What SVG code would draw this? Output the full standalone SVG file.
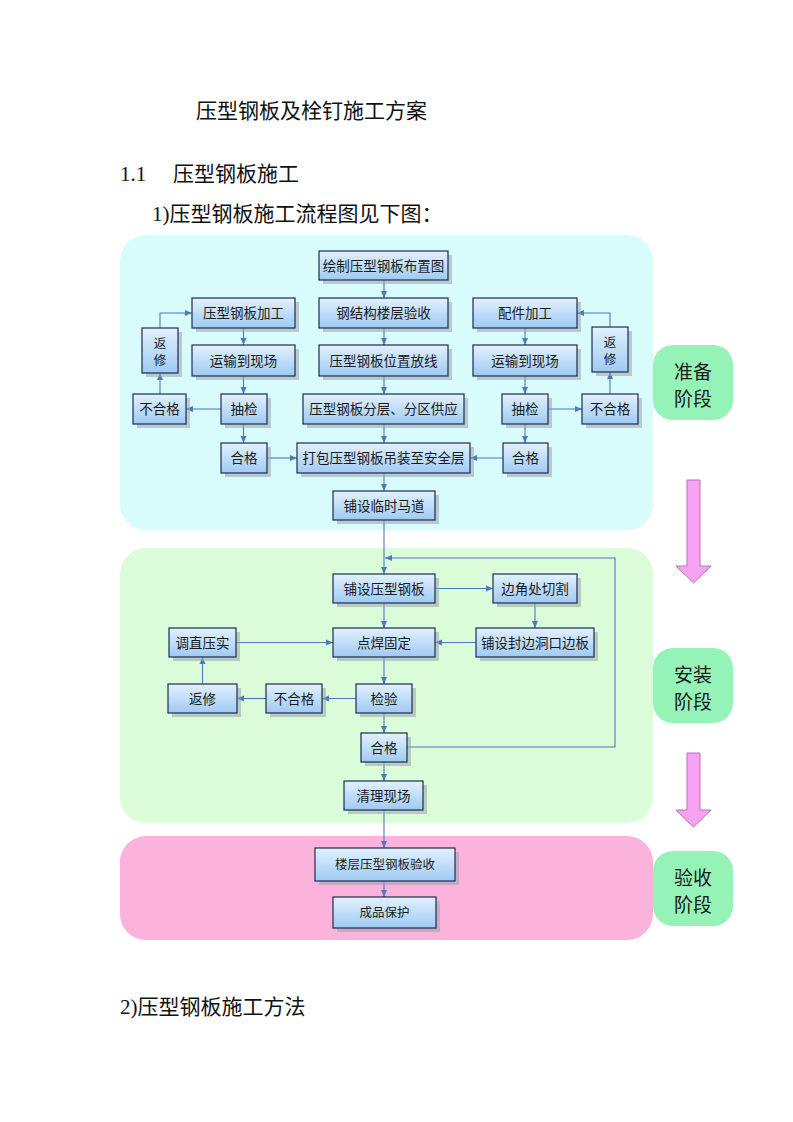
<svg xmlns="http://www.w3.org/2000/svg" width="793" height="1122" viewBox="0 0 793 1122">
<style>
.h{font-family:"Liberation Serif","Noto Sans CJK SC",serif;font-size:21px;fill:#111}
.t{font-family:"Noto Sans CJK SC",sans-serif;font-size:13.5px;fill:#1a1a1a;text-anchor:middle}
.tv{font-family:"Noto Sans CJK SC",sans-serif;font-size:12.5px;fill:#1a1a1a;text-anchor:middle}
.t2{font-family:"Noto Sans CJK SC",sans-serif;font-size:12.5px;fill:#1a1a1a;text-anchor:middle}
.s{font-family:"Noto Sans CJK SC",sans-serif;font-size:19px;fill:#1a1a1a;text-anchor:middle}
.b{fill:url(#g);stroke:#1d2b4f;stroke-width:1.2}
.sh{fill:#9aa3ad;opacity:0.55}
.c{fill:none;stroke:#4d79bd;stroke-width:1.1}
.lab{fill:#95f3b8}
.pa{fill:#f7a2f2;stroke:#b870b8;stroke-width:1}
</style>
<defs>
<linearGradient id="g" x1="0" y1="0" x2="0" y2="1">
<stop offset="0" stop-color="#e2f1ff"/>
<stop offset="1" stop-color="#9fcaf3"/>
</linearGradient>
<marker id="a" markerUnits="userSpaceOnUse" markerWidth="8" markerHeight="8" refX="7" refY="4" orient="auto">
<path d="M0,1 L7,4 L0,7 Z" fill="#4d79bd"/>
</marker>
</defs>

<text class="h" x="196" y="118">压型钢板及栓钉施工方案</text>
<text class="h" x="120" y="181">1.1</text>
<text class="h" x="173" y="181">压型钢板施工</text>
<text class="h" x="152" y="221">1)压型钢板施工流程图见下图：</text>
<text class="h" x="120" y="1014">2)压型钢板施工方法</text>

<g id="panels">
<rect x="120" y="235" width="533" height="295" rx="26" fill="#d8fbfb"/>
<rect x="120" y="548" width="533" height="275" rx="26" fill="#dbfcd8"/>
<rect x="120" y="836" width="533" height="104" rx="26" fill="#fbb3db"/>
</g>

<g id="stages">
<g id="stage1"><rect class="lab" x="653" y="345" width="80" height="75" rx="20"/><text class="s" x="693" y="379">准备</text><text class="s" x="693" y="406">阶段</text></g>
<g id="stage2"><rect class="lab" x="653" y="648" width="80" height="75" rx="20"/><text class="s" x="693" y="682">安装</text><text class="s" x="693" y="709">阶段</text></g>
<g id="stage3"><rect class="lab" x="653" y="851" width="80" height="75" rx="20"/><text class="s" x="693" y="885">验收</text><text class="s" x="693" y="912">阶段</text></g>
<path class="pa" d="M687,480 H700 V566 H711 L693.5,583 L676,566 H687 Z"/>
<path class="pa" d="M687,753 H700 V810 H711 L693.5,827 L676,810 H687 Z"/>
</g>

<g id="connectors">
<path class="c" d="M384,280 V298" marker-end="url(#a)"/>
<path class="c" d="M384,328 V345" marker-end="url(#a)"/>
<path class="c" d="M384,376 V394" marker-end="url(#a)"/>
<path class="c" d="M384,424 V443" marker-end="url(#a)"/>
<path class="c" d="M384,473 V491" marker-end="url(#a)"/>
<path class="c" d="M384,520 V574" marker-end="url(#a)"/>
<path class="c" d="M243.5,328 V345" marker-end="url(#a)"/>
<path class="c" d="M243.5,376 V394" marker-end="url(#a)"/>
<path class="c" d="M243.5,424 V443" marker-end="url(#a)"/>
<path class="c" d="M221,409 H186" marker-end="url(#a)"/>
<path class="c" d="M160,394 V373" marker-end="url(#a)"/>
<path class="c" d="M160,328 V313 H192" marker-end="url(#a)"/>
<path class="c" d="M267,458 H297" marker-end="url(#a)"/>
<path class="c" d="M525,328 V345" marker-end="url(#a)"/>
<path class="c" d="M525,376 V394" marker-end="url(#a)"/>
<path class="c" d="M525,424 V443" marker-end="url(#a)"/>
<path class="c" d="M548,409 H582" marker-end="url(#a)"/>
<path class="c" d="M610,394 V372" marker-end="url(#a)"/>
<path class="c" d="M610,327 V313 H577" marker-end="url(#a)"/>
<path class="c" d="M503,458 H470" marker-end="url(#a)"/>
<path class="c" d="M407,747 H615 V558 H385" marker-end="url(#a)"/>
<path class="c" d="M435,588.5 H493" marker-end="url(#a)"/>
<path class="c" d="M535,603 V628" marker-end="url(#a)"/>
<path class="c" d="M476,642.5 H435" marker-end="url(#a)"/>
<path class="c" d="M236,642.5 H333" marker-end="url(#a)"/>
<path class="c" d="M384,603 V628" marker-end="url(#a)"/>
<path class="c" d="M384,657 V684" marker-end="url(#a)"/>
<path class="c" d="M356,698.5 H322" marker-end="url(#a)"/>
<path class="c" d="M266,698.5 H237" marker-end="url(#a)"/>
<path class="c" d="M202.5,684 V657" marker-end="url(#a)"/>
<path class="c" d="M384,713 V733" marker-end="url(#a)"/>
<path class="c" d="M384,762 V781" marker-end="url(#a)"/>
<path class="c" d="M384,810 V848" marker-end="url(#a)"/>
<path class="c" d="M384,881 V897" marker-end="url(#a)"/>
</g>

<g id="n1"><rect class="sh" x="323" y="255" width="129" height="29"/><rect class="b" x="319" y="251" width="129" height="29"/><text class="t" x="383.5" y="270.5">绘制压型钢板布置图</text></g>
<g id="n2"><rect class="sh" x="323" y="302" width="129" height="30"/><rect class="b" x="319" y="298" width="129" height="30"/><text class="t" x="383.5" y="318">钢结构楼层验收</text></g>
<g id="n3"><rect class="sh" x="323" y="349" width="129" height="31"/><rect class="b" x="319" y="345" width="129" height="31"/><text class="t" x="383.5" y="365.5">压型钢板位置放线</text></g>
<g id="n4"><rect class="sh" x="307" y="398" width="161" height="30"/><rect class="b" x="303" y="394" width="161" height="30"/><text class="t" x="383.5" y="414">压型钢板分层、分区供应</text></g>
<g id="n5"><rect class="sh" x="301" y="447" width="173" height="30"/><rect class="b" x="297" y="443" width="173" height="30"/><text class="t" x="383.5" y="463">打包压型钢板吊装至安全层</text></g>
<g id="n6"><rect class="sh" x="337" y="495" width="102" height="29"/><rect class="b" x="333" y="491" width="102" height="29"/><text class="t" x="384" y="510.5">铺设临时马道</text></g>

<g id="l1"><rect class="sh" x="196" y="302" width="103" height="30"/><rect class="b" x="192" y="298" width="103" height="30"/><text class="t" x="243.5" y="318">压型钢板加工</text></g>
<g id="l2"><rect class="sh" x="196" y="349" width="103" height="31"/><rect class="b" x="192" y="345" width="103" height="31"/><text class="t" x="243.5" y="365.5">运输到现场</text></g>
<g id="l3"><rect class="sh" x="146" y="332" width="36" height="45"/><rect class="b" x="142" y="328" width="36" height="45"/><text class="tv" x="160" y="348">返</text><text class="tv" x="160" y="365">修</text></g>
<g id="l4"><rect class="sh" x="137" y="398" width="53" height="30"/><rect class="b" x="133" y="394" width="53" height="30"/><text class="t" x="159.5" y="414">不合格</text></g>
<g id="l5"><rect class="sh" x="225" y="398" width="46" height="30"/><rect class="b" x="221" y="394" width="46" height="30"/><text class="t" x="244" y="414">抽检</text></g>
<g id="l6"><rect class="sh" x="225" y="447" width="46" height="30"/><rect class="b" x="221" y="443" width="46" height="30"/><text class="t" x="244" y="463">合格</text></g>

<g id="r1"><rect class="sh" x="477" y="302" width="104" height="30"/><rect class="b" x="473" y="298" width="104" height="30"/><text class="t" x="525" y="318">配件加工</text></g>
<g id="r2"><rect class="sh" x="477" y="349" width="104" height="31"/><rect class="b" x="473" y="345" width="104" height="31"/><text class="t" x="525" y="365.5">运输到现场</text></g>
<g id="r3"><rect class="sh" x="596" y="331" width="36" height="45"/><rect class="b" x="592" y="327" width="36" height="45"/><text class="tv" x="610" y="347">返</text><text class="tv" x="610" y="364">修</text></g>
<g id="r4"><rect class="sh" x="586" y="398" width="56" height="30"/><rect class="b" x="582" y="394" width="56" height="30"/><text class="t" x="610" y="414">不合格</text></g>
<g id="r5"><rect class="sh" x="506" y="398" width="46" height="30"/><rect class="b" x="502" y="394" width="46" height="30"/><text class="t" x="525" y="414">抽检</text></g>
<g id="r6"><rect class="sh" x="507" y="447" width="45" height="30"/><rect class="b" x="503" y="443" width="45" height="30"/><text class="t" x="525.5" y="463">合格</text></g>

<g id="m1"><rect class="sh" x="337" y="578" width="102" height="29"/><rect class="b" x="333" y="574" width="102" height="29"/><text class="t" x="384" y="593.5">铺设压型钢板</text></g>
<g id="m2"><rect class="sh" x="497" y="578" width="84" height="29"/><rect class="b" x="493" y="574" width="84" height="29"/><text class="t" x="535" y="593.5">边角处切割</text></g>
<g id="m3"><rect class="sh" x="480" y="632" width="118" height="29"/><rect class="b" x="476" y="628" width="118" height="29"/><text class="t" x="535" y="647.5">铺设封边洞口边板</text></g>
<g id="m4"><rect class="sh" x="337" y="632" width="102" height="29"/><rect class="b" x="333" y="628" width="102" height="29"/><text class="t" x="384" y="647.5">点焊固定</text></g>
<g id="m5"><rect class="sh" x="173" y="632" width="67" height="29"/><rect class="b" x="169" y="628" width="67" height="29"/><text class="t" x="202.5" y="647.5">调直压实</text></g>
<g id="m6"><rect class="sh" x="172" y="688" width="69" height="29"/><rect class="b" x="168" y="684" width="69" height="29"/><text class="t" x="202.5" y="703.5">返修</text></g>
<g id="m7"><rect class="sh" x="270" y="688" width="56" height="29"/><rect class="b" x="266" y="684" width="56" height="29"/><text class="t" x="294" y="703.5">不合格</text></g>
<g id="m8"><rect class="sh" x="360" y="688" width="56" height="29"/><rect class="b" x="356" y="684" width="56" height="29"/><text class="t" x="384" y="703.5">检验</text></g>
<g id="m9"><rect class="sh" x="365" y="737" width="46" height="29"/><rect class="b" x="361" y="733" width="46" height="29"/><text class="t" x="384" y="752.5">合格</text></g>
<g id="m10"><rect class="sh" x="348" y="785" width="79" height="29"/><rect class="b" x="344" y="781" width="79" height="29"/><text class="t" x="383.5" y="800.5">清理现场</text></g>

<g id="p1"><rect class="sh" x="319" y="852" width="140" height="33"/><rect class="b" x="315" y="848" width="140" height="33"/><text class="t2" x="385" y="869">楼层压型钢板验收</text></g>
<g id="p2"><rect class="sh" x="337" y="901" width="103" height="31"/><rect class="b" x="333" y="897" width="103" height="31"/><text class="t2" x="384.5" y="917">成品保护</text></g>
</svg>
